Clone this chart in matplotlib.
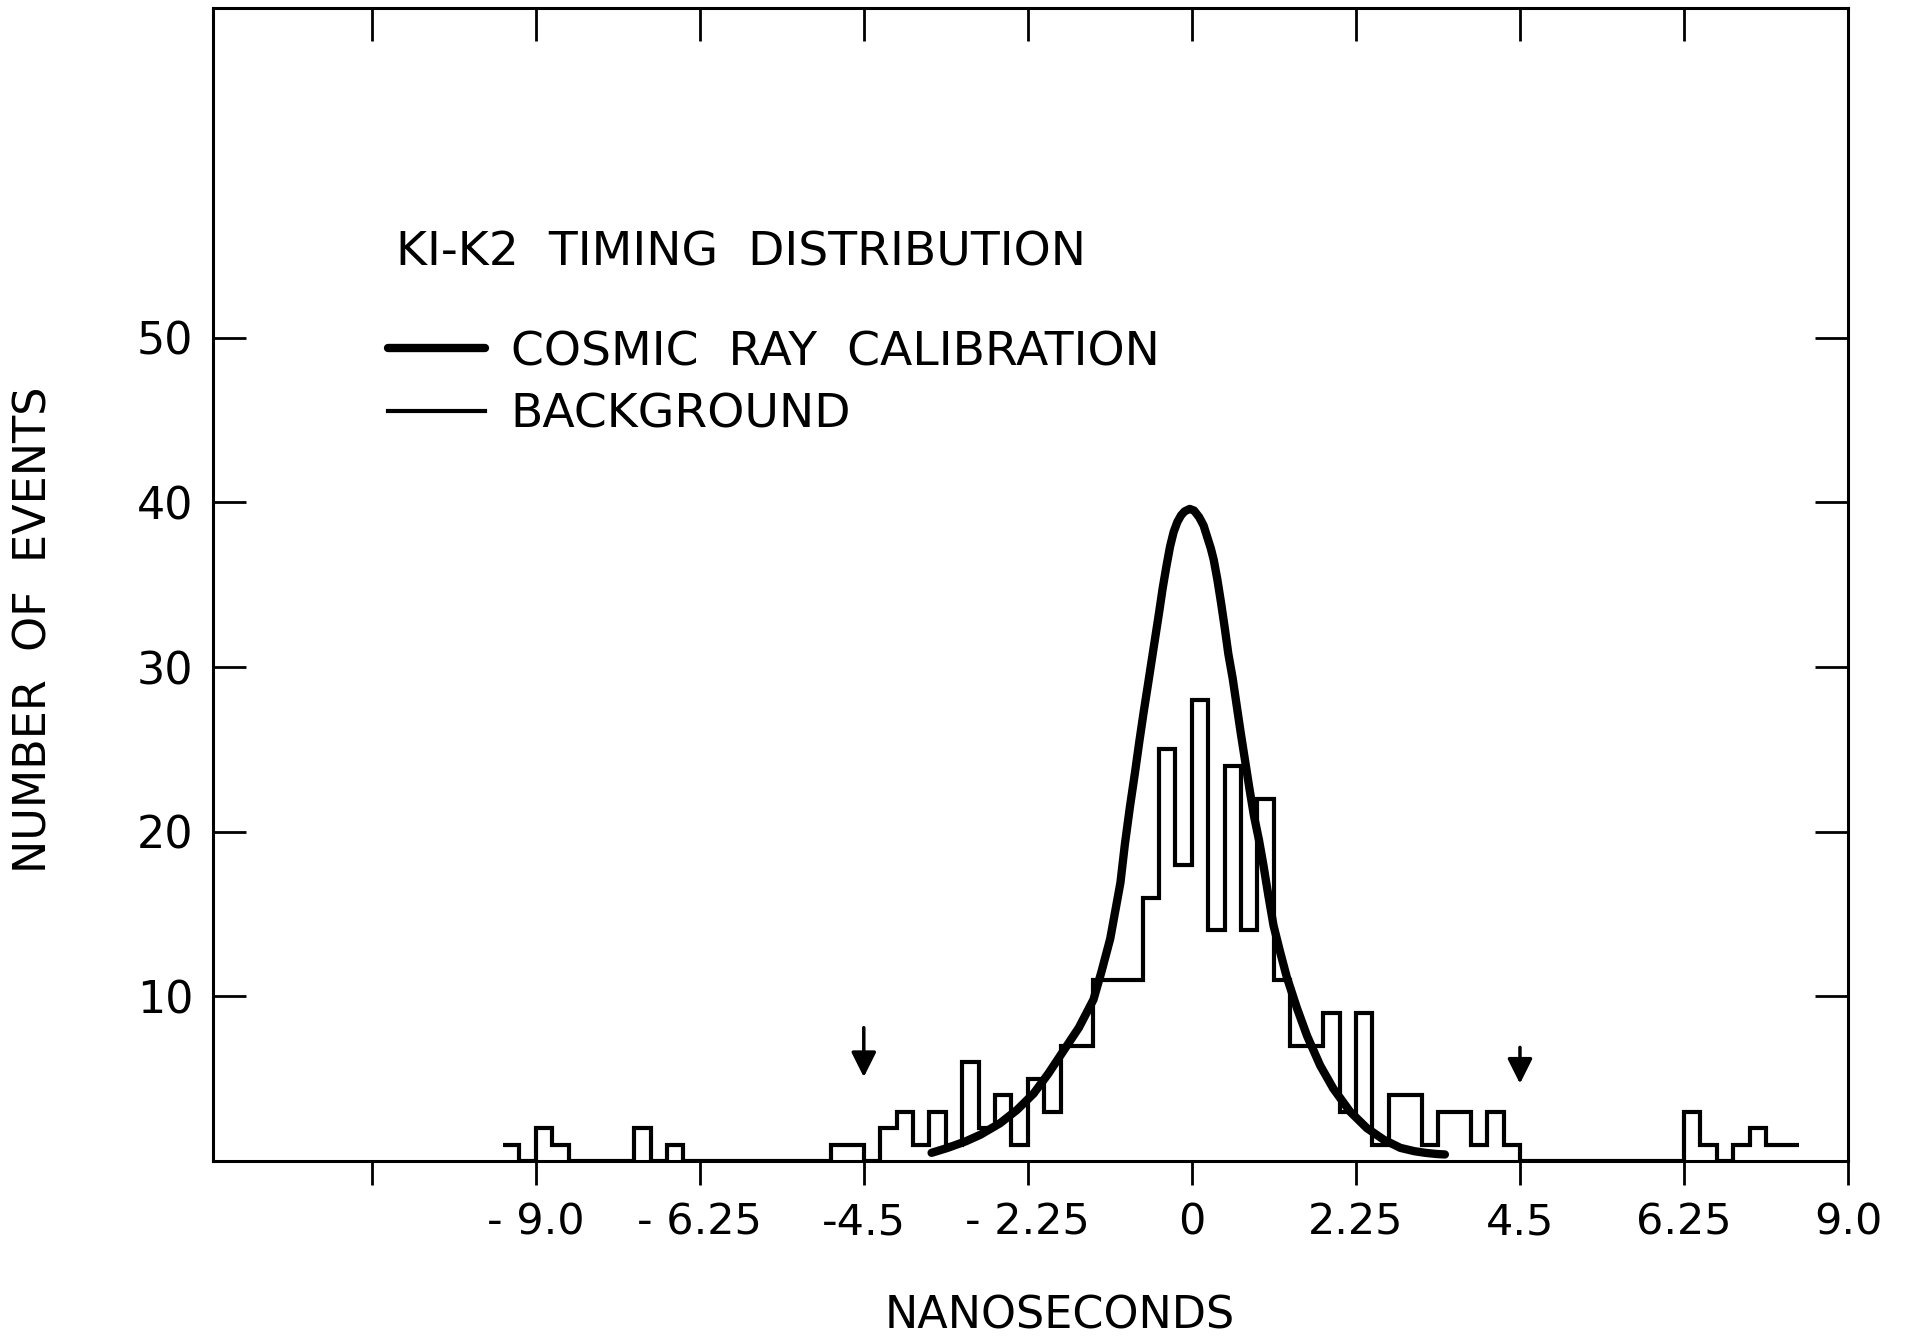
"""K1-K2 timing distribution"""

# Matplotlib
from matplotlib import pyplot as plt

# Numpy
import numpy as np


# background histogram: counts per 0.225 ns bin, first bin starts at -9.45 ns
bin_width = 0.225
first_edge = -9.45
counts = [
    1, 0, 2, 1, 0, 0, 0, 0,
    2, 0, 1,
    0, 0, 0, 0, 0, 0, 0, 0, 0,
    1, 1, 0,
    2, 3, 1, 3, 1, 6, 2, 4, 1, 5, 3, 7, 7,
    11, 11, 11, 16, 25, 18,
    28, 14, 24, 14, 22, 11, 7, 7, 9, 3, 9, 1, 4, 4, 1, 3, 3, 1, 3, 1,
    0, 0, 0, 0, 0, 0, 0, 0, 0, 0,
    3, 1, 0, 1, 2, 1, 1,
]

# cosmic ray calibration curve
cosmic_ns = [-3.57, -3.35, -3.1, -2.9, -2.63, -2.40, -2.17, -1.97, -1.76,
             -1.55, -1.35, -1.24, -1.12, -1.05, -0.98, -0.92, -0.85, -0.78,
             -0.72, -0.66, -0.60, -0.52, -0.45, -0.40, -0.35, -0.30, -0.25,
             -0.20, -0.15, -0.10, -0.03, 0.03, 0.10, 0.16, 0.21, 0.26, 0.30,
             0.35, 0.40, 0.45, 0.50, 0.56, 0.61, 0.67, 0.73, 0.79, 0.85,
             0.92, 0.98, 1.05, 1.12, 1.21, 1.30, 1.44, 1.58, 1.76, 1.94,
             2.17, 2.40, 2.63, 2.86, 3.05, 3.20, 3.35, 3.47]
cosmic_counts = [0.5, 0.8, 1.2, 1.6, 2.3, 3.1, 4.1, 5.3, 6.7,
                 8.1, 9.8, 11.5, 13.5, 15.2, 16.9, 19.2, 21.5, 23.6,
                 25.5, 27.3, 29.0, 31.3, 33.3, 34.8, 36.1, 37.3, 38.2,
                 38.8, 39.2, 39.45, 39.6, 39.5, 39.1, 38.6, 37.9, 37.2, 36.5,
                 35.3, 33.9, 32.4, 30.8, 29.3, 27.8, 26.0, 24.3, 22.6, 21.0,
                 19.5, 18.0, 16.1, 14.3, 12.7, 11.2, 9.3, 7.6, 5.8, 4.4,
                 3.0, 2.0, 1.3, 0.8, 0.6, 0.5, 0.43, 0.4]

# cut markers
arrow_ns = [-4.5, 4.5]
arrow_from = [8.1, 6.9]
arrow_to = [5.1, 4.7]

x_ticks = [-11.25, -9.0, -6.75, -4.5, -2.25, 0, 2.25, 4.5, 6.75, 9.0]
x_labels = ['', '- 9.0', '- 6.25', '-4.5', '- 2.25', '0', '2.25', '4.5',
            '6.25', '9.0']
y_ticks = [10, 20, 30, 40, 50]


def generate_plot():
    """Draw the figure"""
    plt.rcParams['font.family'] = 'DejaVu Sans'
    fig = plt.figure(figsize=(19.06, 13.39), dpi=100)
    ax = fig.add_axes([0.1116, 0.1329, 0.858, 0.8609])

    edges = first_edge + bin_width * np.arange(len(counts) + 1)
    ax.stairs(counts, edges, baseline=None, color='black', linewidth=3,
              label='BACKGROUND')
    cosmic, = ax.plot(cosmic_ns, cosmic_counts, color='black', linewidth=6,
                      solid_capstyle='round', solid_joinstyle='round',
                      label='COSMIC RAY CALIBRATION')

    for xa, y0, y1 in zip(arrow_ns, arrow_from, arrow_to):
        ax.annotate('', xy=(xa, y1), xytext=(xa, y0),
                    arrowprops=dict(arrowstyle='-|>', color='black', lw=2.5,
                                    mutation_scale=38, shrinkA=0, shrinkB=0))

    ax.set_xlim(-13.43, 9.0)
    ax.set_ylim(0, 70)
    for spine in ax.spines.values():
        spine.set_linewidth(2.2)

    ax.set_xticks(x_ticks)
    ax.set_xticklabels(x_labels)
    ax.tick_params(axis='x', direction='out', length=17, width=2,
                   labelsize=31, pad=12)
    ax.set_xticks([0], minor=True)
    ax.tick_params(axis='x', which='minor', direction='inout', length=31,
                   width=2)
    top = ax.secondary_xaxis('top')
    top.set_xticks(x_ticks[:-1])
    top.tick_params(direction='in', length=24, width=2, labeltop=False)

    ax.set_yticks(y_ticks)
    ax.tick_params(axis='y', direction='in', left=True, right=True,
                   length=24, width=2, labelsize=32, pad=14)

    ax.text(396 / 1906, 1 - 253 / 1339, 'KI-K2  TIMING  DISTRIBUTION',
            transform=fig.transFigure, fontsize=34, va='center', ha='left')
    line_bg = plt.Line2D([], [], color='black', linewidth=3)
    ax.legend([cosmic, line_bg], ['COSMIC  RAY  CALIBRATION', 'BACKGROUND'],
              loc='upper left', bbox_to_anchor=(388 / 1906, 1 - 330 / 1339),
              bbox_transform=fig.transFigure, frameon=False, fontsize=34,
              handlelength=2.05, handletextpad=0.55, labelspacing=0.38,
              borderpad=0, borderaxespad=0)

    fig.text(1060 / 1906, 1 - 1316 / 1339, 'NANOSECONDS', fontsize=32,
             ha='center', va='center')
    fig.text(34 / 1906, 1 - 630 / 1339, 'NUMBER  OF  EVENTS', fontsize=32,
             rotation=90, ha='center', va='center')

    fig.savefig('out.png', dpi=100, facecolor='white')


if __name__ == '__main__':
    generate_plot()
